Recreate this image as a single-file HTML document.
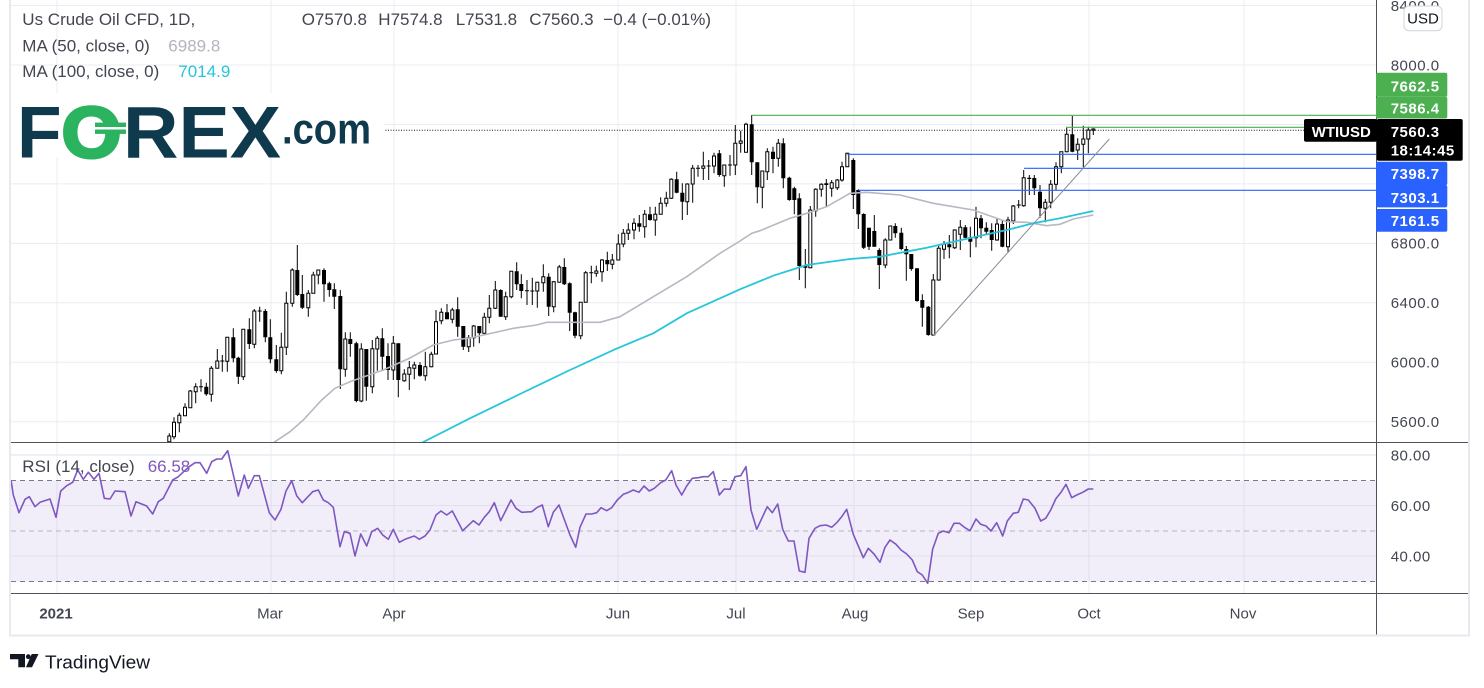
<!DOCTYPE html>
<html><head><meta charset="utf-8"><style>
html,body{margin:0;padding:0;background:#fff;width:1484px;height:688px;overflow:hidden}
svg{position:absolute;left:0;top:0;font-family:"Liberation Sans",sans-serif}
.ax{font-size:15px;fill:#434651;letter-spacing:.5px}
.lg{font-size:17px;fill:#434651}
.wl{font-size:15px;fill:#fff;letter-spacing:.5px}
</style></head><body>
<svg width="1484" height="688" viewBox="0 0 1484 688" xmlns="http://www.w3.org/2000/svg">
<defs>
<clipPath id="mp"><rect x="11" y="0" width="1365" height="442"/></clipPath>
<clipPath id="rp"><rect x="11" y="442" width="1365" height="151"/></clipPath>
</defs>
<!-- grid -->
<g stroke="#e8edf2" stroke-width="1" fill="none">
<path d="M11 5.5H1376M11 65H1376M11 124.5H1376M11 183.9H1376M11 243.4H1376M11 302.8H1376M11 362.3H1376M11 421.7H1376"/>
<path d="M57 0V593M271 0V593M394 0V593M618 0V593M736 0V593M854 0V593M971 0V593M1089 0V593M1244 0V593"/>
</g>
<!-- RSI background -->
<rect x="11" y="480.5" width="1365" height="101" fill="rgba(126,87,194,0.1)"/>
<g stroke="#dfe1ec" stroke-width="1"><path d="M11 455H1376M11 505.5H1376M11 556H1376"/></g>
<path d="M11 480.5H1376M11 581.5H1376" stroke="#787b86" stroke-width="1" stroke-dasharray="5 4"/>
<path d="M11 531H1376" stroke="#b2b5be" stroke-width="1" stroke-dasharray="5 4"/>

<g clip-path="url(#mp)">
<!-- wicks -->
<path fill="none" stroke="#000" stroke-width="1" d="M169.3 433.3V443.3M174 417.3V439.3M179.3 412.7V432.3M185 403.3V415.7M190.3 390V407.7M195.7 383.3V403.3M201 379.3V391.7M206.3 382.7V395.7M211.3 366V401.7M217.3 349V368.3M222.3 355V371.7M227.3 337.3V371.7M233.3 328.3V362.3M238.3 356.7V384M243.3 329.3V380M249.3 318.3V349M254.3 309V348.3M259.7 306.7V321.7M265.3 309V342.3M270.3 319.3V363.3M276.3 345V372.7M281.3 332.7V374.3M286.3 291.7V355M292.3 268.3V306.7M297.3 245V296M302.3 275V309M308.3 290V316.7M313.3 271.7V293.3M318.3 270V284.3M324 268.3V301.7M329.3 281.7V296.7M334.3 283.3V309M340.3 290V389M345.3 332.3V376.7M350.3 332.3V356.7M356.3 341.7V402.3M361.3 343.3V402.3M366.3 349V400.7M372.3 340V393.3M377.3 336V370.7M382.3 328.3V370M388 343.3V380M393.3 336V380M398.3 343.3V397.3M404.3 369.3V381.7M409.3 361V390M414.3 361.7V379.3M420 362.3V376.7M425.3 351.7V380.7M431.3 351.7V367.3M436 310V354M441.3 308.3V324.3M447 304V319.3M452.3 307.7V323.3M457.7 297.3V336.7M463.3 326V350M468.7 335V352M473.7 325V346.7M479.3 326V343.3M484.3 312.7V334M489.3 295V323.3M495.3 281V309M500.7 289.3V316.7M505.7 291.7V320M511.3 271.3V298.3M516.7 262.3V290M521.3 274.3V298.3M527 280V305M532.3 277.7V305M537.3 281.7V307.7M543.3 264.3V291.7M548.7 273.3V316M553.7 281V312.3M559.3 265V282.3M564.3 258.3V285M569.7 282.3V331M575 311.7V338.3M580.7 302.3V339.3M585.7 271V302.3M591.3 265.7V283.3M596.3 265.7V276.7M602 259V281.7M607.3 251.7V271M612.3 254V269.3M618.3 234.3V260M623.3 229V247.3M628.3 223.3V240M634 218.3V239.3M639.3 215V231.7M644.7 210V237.7M650 206.7V220.7M655.3 206.7V235.7M660.7 197.3V214.3M666.3 191.7V206.7M671.3 178.3V199M676.7 171.7V193.3M682.3 183.3V220M687.3 183.3V215M692.7 165V202.7M698 165V176.7M703.3 151.7V180M708.7 160V180M714 152.7V173.3M719.3 150V176.7M724.3 165V186.7M730 155V175.7M735.3 125V175M740.7 130.7V152.7M746 122.7V152.7M751.7 115V175M757.3 162.3V203.3M762.3 171V208.3M767.3 148.3V180M773 146.7V173.3M778.3 139V166.7M783.3 138.3V188.3M789.3 176.7V200.7M794.3 186.7V214.3M799.3 193.3V280M805.3 249V288.3M810.3 206V268.3M815.7 188.3V216.7M821.3 183.3V196.7M826.3 179V207.3M831.7 180V196.7M837.3 179V190M842 161.7V181.7M847.3 152.7V166.7M853.3 158.3V209M858.3 189.3V229M863.7 213.3V249M869 227.7V250M874.3 215V246.7M879.3 248.3V289M885.3 238.3V268.3M890.3 226V240M895.3 223.3V237.7M901.3 227.7V250.3M906.3 246V280.7M911.3 254V270.7M917 268.3V301.7M922.3 294.3V326.7M928.3 306V335.7M933.3 274V336M938.7 245V280.7M944 241V259M949.3 235V258.3M954.7 229.3V249M960.3 220V250M965.3 225V238.3M970.3 226.7V257.3M976 206.7V247.3M981 215V238.3M986.3 222.3V234.3M991.7 223.3V250.7M997 218.3V240.7M1002.3 220V247.3M1008 216.7V251.7M1013.3 205V224M1018.7 200V208.3M1023.7 170V206.7M1029.3 175V195M1034.3 175V195M1040 185V217.7M1045.3 199V222.3M1050.7 180V208.3M1056 162.3V190M1061.3 151.7V173.3M1066.7 127.7V152.3M1072.3 116V152.3M1077.7 138.3V160M1083.3 125.7V167.3M1088.3 126.7V153.3M1093.3 128.3V135"/>
<!-- black bodies -->
<path fill="#000" d="M206.3 386.7m-2 0h4V394.3h-4zM233.3 337.3m-2 0h4V358.3h-4zM238.3 357.7m-2 0h4V376.7h-4zM249.3 329.3m-2 0h4V344h-4zM265.3 311m-2 0h4V337.3h-4zM270.3 337.3m-2 0h4V359.3h-4zM276.3 359.3m-2 0h4V371h-4zM297.3 270m-2 0h4V295h-4zM302.3 294m-2 0h4V307.7h-4zM324 270m-2 0h4V284.3h-4zM329.3 283.3m-2 0h4V290h-4zM334.3 289.3m-2 0h4V296.7h-4zM340.3 296m-2 0h4V369.3h-4zM350.3 339m-2 0h4V344h-4zM356.3 343.3m-2 0h4V401h-4zM366.3 349m-2 0h4V386.7h-4zM382.3 338.3m-2 0h4V356.7h-4zM388 356m-2 0h4V370h-4zM398.3 343.3m-2 0h4V380h-4zM420 365m-2 0h4V375.7h-4zM447 312.3m-2 0h4V319.3h-4zM457.7 309.3m-2 0h4V326.7h-4zM463.3 326m-2 0h4V346.7h-4zM479.3 326m-2 0h4V333.3h-4zM500.7 290m-2 0h4V316.7h-4zM516.7 271.3m-2 0h4V284.3h-4zM521.3 284m-2 0h4V291h-4zM548.7 276.7m-2 0h4V306.7h-4zM564.3 267m-2 0h4V284.3h-4zM569.7 283.3m-2 0h4V312.7h-4zM575 312.3m-2 0h4V335.7h-4zM607.3 260m-2 0h4V264.3h-4zM639.3 223.3m-2 0h4V226.7h-4zM650 214.3m-2 0h4V220h-4zM676.7 179.3m-2 0h4V192.7h-4zM682.3 192.7m-2 0h4V201.7h-4zM719.3 153.3m-2 0h4V175h-4zM751.7 124.3m-2 0h4V162.3h-4zM757.3 162.3m-2 0h4V187.3h-4zM773 151.7m-2 0h4V159h-4zM783.3 143.3m-2 0h4V178.3h-4zM789.3 177.7m-2 0h4V200h-4zM794.3 188.3m-2 0h4V200h-4zM799.3 198.3m-2 0h4V266h-4zM805.3 265m-2 0h4V267.7h-4zM826.3 183.3m-2 0h4V185h-4zM853.3 160m-2 0h4V195h-4zM858.3 190m-2 0h4V214.3h-4zM863.7 214m-2 0h4V247.7h-4zM869 227.7m-2 0h4V246.7h-4zM874.3 231m-2 0h4V246.7h-4zM879.3 250m-2 0h4V265h-4zM895.3 226m-2 0h4V233.3h-4zM901.3 232.7m-2 0h4V249h-4zM906.3 249m-2 0h4V254.3h-4zM911.3 254m-2 0h4V269h-4zM917 268.3m-2 0h4V301h-4zM922.3 300m-2 0h4V307.7h-4zM928.3 306.7m-2 0h4V335h-4zM949.3 244.3m-2 0h4V247.3h-4zM965.3 227.3m-2 0h4V237.7h-4zM970.3 237.3m-2 0h4V241.7h-4zM981 218.3m-2 0h4V228.3h-4zM986.3 227.7m-2 0h4V231.7h-4zM991.7 230m-2 0h4V240h-4zM1002.3 224m-2 0h4V246.7h-4zM1029.3 177.7m-2 0h4V179h-4zM1034.3 178m-2 0h4V188.3h-4zM1040 191.7m-2 0h4V208.3h-4zM1072.3 134.3m-2 0h4V151.7h-4zM201 386.7m-2 -.5h4v1h-4zM222.3 361m-2 -.5h4v1h-4zM259.7 311m-2 -.5h4v1h-4zM527 290.7m-2 -.5h4v1h-4zM532.3 291m-2 -.5h4v1h-4zM591.3 272.7m-2 -.5h4v1h-4zM698 168.3m-2 -.5h4v1h-4zM708.7 166m-2 -.5h4v1h-4zM730 165m-2 -.5h4v1h-4zM1018.7 205m-2 -.5h4v1h-4z"/>
<!-- hollow bodies -->
<path fill="#fff" stroke="#000" stroke-width="1" d="M169.3 436m-1.5 0h3V441.7h-3zM174 422.3m-1.5 0h3V436.7h-3zM179.3 415.3m-1.5 0h3V422.7h-3zM185 407.3m-1.5 0h3V415.7h-3zM190.3 391m-1.5 0h3V407.7h-3zM195.7 386.7m-1.5 0h3V391.7h-3zM211.3 368.3m-1.5 0h3V394.3h-3zM217.3 361m-1.5 0h3V368.3h-3zM227.3 337.3m-1.5 0h3V361.3h-3zM243.3 329.3m-1.5 0h3V376.7h-3zM254.3 311m-1.5 0h3V344.3h-3zM281.3 347.3m-1.5 0h3V370.7h-3zM286.3 303.3m-1.5 0h3V347.3h-3zM292.3 270m-1.5 0h3V303.3h-3zM308.3 293.3m-1.5 0h3V307.7h-3zM313.3 275m-1.5 0h3V293.3h-3zM318.3 270m-1.5 0h3V275h-3zM345.3 339m-1.5 0h3V369.3h-3zM361.3 349m-1.5 0h3V401h-3zM372.3 348.7m-1.5 0h3V386.7h-3zM377.3 338.3m-1.5 0h3V349h-3zM393.3 343.3m-1.5 0h3V370h-3zM404.3 374m-1.5 0h3V380.7h-3zM409.3 367.7m-1.5 0h3V374.3h-3zM414.3 365m-1.5 0h3V368.3h-3zM425.3 366.7m-1.5 0h3V375.7h-3zM431.3 354.3m-1.5 0h3V366.7h-3zM436 321.7m-1.5 0h3V354h-3zM441.3 312.3m-1.5 0h3V320.7h-3zM452.3 310m-1.5 0h3V319.3h-3zM468.7 337.7m-1.5 0h3V346.7h-3zM473.7 326m-1.5 0h3V337.7h-3zM484.3 317.3m-1.5 0h3V333.3h-3zM489.3 308.3m-1.5 0h3V317.3h-3zM495.3 290m-1.5 0h3V308.3h-3zM505.7 296.7m-1.5 0h3V316.7h-3zM511.3 271.3m-1.5 0h3V296.7h-3zM537.3 282.3m-1.5 0h3V291h-3zM543.3 276.7m-1.5 0h3V282.7h-3zM553.7 281.7m-1.5 0h3V306.7h-3zM559.3 267m-1.5 0h3V282.3h-3zM580.7 302.3m-1.5 0h3V335.7h-3zM585.7 272.7m-1.5 0h3V302.3h-3zM596.3 271m-1.5 0h3V273.3h-3zM602 260m-1.5 0h3V271.7h-3zM612.3 260m-1.5 0h3V264.3h-3zM618.3 244m-1.5 0h3V260h-3zM623.3 233.3m-1.5 0h3V244h-3zM628.3 230m-1.5 0h3V233.3h-3zM634 223.3m-1.5 0h3V230h-3zM644.7 214.3m-1.5 0h3V226.7h-3zM655.3 214.3m-1.5 0h3V220h-3zM660.7 203.3m-1.5 0h3V214.3h-3zM666.3 198.3m-1.5 0h3V203.3h-3zM671.3 179.3m-1.5 0h3V198.3h-3zM687.3 184m-1.5 0h3V201.7h-3zM692.7 168.3m-1.5 0h3V184h-3zM703.3 166m-1.5 0h3V168.3h-3zM714 156m-1.5 0h3V166h-3zM724.3 165m-1.5 0h3V175.7h-3zM735.3 143.3m-1.5 0h3V165h-3zM740.7 141m-1.5 0h3V143.3h-3zM746 124.3m-1.5 0h3V152.3h-3zM762.3 171m-1.5 0h3V187.3h-3zM767.3 151.7m-1.5 0h3V171.7h-3zM778.3 143.3m-1.5 0h3V158.3h-3zM810.3 210m-1.5 0h3V267.7h-3zM815.7 189.3m-1.5 0h3V210.7h-3zM821.3 184.3m-1.5 0h3V189.3h-3zM831.7 182.7m-1.5 0h3V188.3h-3zM837.3 180m-1.5 0h3V187.7h-3zM842 166.7m-1.5 0h3V180h-3zM847.3 153.3m-1.5 0h3V166.7h-3zM885.3 240m-1.5 0h3V265h-3zM890.3 226m-1.5 0h3V240h-3zM933.3 280m-1.5 0h3V335h-3zM938.7 248.3m-1.5 0h3V280h-3zM944 244.3m-1.5 0h3V249.3h-3zM954.7 230m-1.5 0h3V247.7h-3zM960.3 227.3m-1.5 0h3V234.3h-3zM976 218.3m-1.5 0h3V237.7h-3zM997 224m-1.5 0h3V240h-3zM1008 220m-1.5 0h3V246.7h-3zM1013.3 206m-1.5 0h3V221h-3zM1023.7 177.7m-1.5 0h3V205.7h-3zM1045.3 202.3m-1.5 0h3V208.3h-3zM1050.7 184.3m-1.5 0h3V202.3h-3zM1056 166.7m-1.5 0h3V184.3h-3zM1061.3 151.7m-1.5 0h3V166.7h-3zM1066.7 134.3m-1.5 0h3V151.7h-3zM1077.7 144.3m-1.5 0h3V150h-3zM1083.3 139m-1.5 0h3V144.3h-3zM1088.3 130m-1.5 0h3V139h-3zM1093.3 129m-1.5 0h3V130.3h-3z"/>
<!-- MA 50 -->
<polyline fill="none" stroke="#b7b8c2" stroke-width="1.6" points="262,452 275,441.7 290,431.7 303.3,420 321.7,400 335,388.3 350,381.7 383.3,370 410,358 433.3,345 453.3,340 470,338 513.3,328.3 536.7,325 546.7,322.3 600,322.3 620,316.7 653.3,296.7 686.7,276.7 720,253.3 740,241 751.7,233.3 760,230.7 790,218.3 806.7,213.3 826.7,206.7 850,193.3 866.7,192.3 900,195 933.3,203.3 973.3,210 1006.7,221.7 1026.7,222.3 1046.7,225.7 1060,224.3 1073.3,219 1093.3,215"/>
<!-- MA 100 -->
<polyline fill="none" stroke="#26c6da" stroke-width="1.8" points="418,445 423.3,442 470,418.3 520,394 570,370 615,349.3 653.3,333.3 686.7,313.3 720,298.3 740,289.3 773.3,275.7 806.7,265 850,259 880,256.7 926.7,247.7 953.3,241.7 1006.7,230 1033.3,223.3 1060,218.3 1093.3,211"/>
<!-- levels -->
<path d="M751.7 115.3H1376M1066 127.3H1376" stroke="#4caf50" stroke-width="1.2"/>
<path d="M847.3 154.3H1376M1024 168.3H1376M858.3 190.3H1376" stroke="#2962ff" stroke-width="1.2"/>
<path d="M11 130.3H1376" stroke="#131722" stroke-width="1" stroke-dasharray="1 1.6"/>
<path d="M933.3 336L1109.3 139" stroke="#8a8d98" stroke-width="1"/>
</g>

<!-- RSI line -->
<polyline clip-path="url(#rp)" fill="none" stroke="#7e57c2" stroke-width="1.6" stroke-linejoin="round" points="11,480 13.3,495 19,512.7 25,499.3 29.3,496.7 35,506.7 40,502.3 50,499 56,517.3 60.7,491 66.7,485.7 72.7,482.3 77.7,470 83.3,479.3 88.3,472.3 94,479.3 99,473.3 104.3,498.3 110,499 115,491 125,491.7 131,516 136,501.7 146.7,506 152.7,514 158.3,501.7 163.3,498.3 172.7,480 178.3,476.7 188.3,467.3 195,462.7 200,462.7 206.7,473.3 211.7,461.7 216.7,459 221.7,459 227.7,450.7 238.3,496 244.3,475 248.3,488.3 254.3,475.7 259.3,475.7 269.3,512.7 275,520 281,509.3 286,491 291.7,480.7 296.7,495.7 302.3,502.7 312.7,491.7 318.3,490 323.3,500 328.3,502.7 333.3,507.3 340,546.7 344.3,531.7 350,533.3 355,556 360.7,534 366.7,546 371.7,531.7 377.7,528.3 382.7,535 388.3,539.3 393.3,529.3 399.3,542.3 405,539.3 414.3,536 419.3,539.3 425,536 430,530 436,515 441,511 446.7,515 452.3,511 462.7,530.7 473.3,520.7 479,525 484.3,517.3 489.3,511.7 494.3,502.7 500.7,520.7 511,500 516,508.3 521.7,512.3 531.7,511.7 536.7,507.7 542.3,505 548.3,526.7 553.3,512.3 559,505 570,535 575.7,547.3 580,527.3 586,514 591.7,514 596.7,512.7 601,507.7 606.7,510.7 611.7,507.7 617.3,500 623.3,494.3 627.7,492.7 633.3,490 639,492.3 644,486 649.3,491 654.3,488.3 660.7,482.7 665.7,480 671.7,470.7 676,485 681.7,495 686.7,486 692.3,478.3 698.3,477.7 703.3,476.7 708.3,476.7 713.3,471.7 719.3,495 724.3,489 730,489.3 735,476.7 740.7,475.7 746,466.7 751,510 756.7,529.3 762.3,517.3 767.3,506.7 772.3,512.7 777.7,504 782.7,529.3 788.3,541 794,541 799.3,571 805,572.3 809,538.3 815,528.3 820,525.7 826,525 831.7,527.3 836.7,522.7 841.7,516.7 846.7,509.3 853.3,534.3 858.3,546 863.3,557.7 868.3,548.3 874,554 880,562.3 885,547.3 890,540 896,544.3 901,550 906.7,554 912.3,560 917.3,571.7 922.3,575 927.7,583.3 932.7,549 938.3,533.3 943.3,531 949,532.7 954,523.3 959.3,523.3 965,527.7 970,530.7 976,519 980.7,524.3 986,526 991,531 996.7,522.7 1002.7,536 1007.3,521 1013.3,513.3 1018.3,512.3 1023.3,499 1028.3,500 1035,508.3 1040.7,521 1045.7,518.3 1050.7,510 1055.7,499 1061,492.3 1066,484.3 1071.7,497.7 1076.7,495 1082.7,492.3 1088.3,489 1093.3,489"/>

<!-- logo -->
<rect x="11" y="93" width="373" height="64" fill="#fff"/>
<text x="17" y="157.3" font-size="73" font-weight="bold" fill="#0f3a4d">F</text>
<text x="61.5" y="157.5" font-size="72" font-weight="bold" fill="#2bb35f" stroke="#2bb35f" stroke-width="3" textLength="60" lengthAdjust="spacingAndGlyphs">O</text>
<rect x="95" y="122.6" width="31" height="4.4" fill="#2bb35f"/>
<rect x="96" y="127" width="30" height="2.5" fill="#fff"/>
<rect x="95" y="129.5" width="31" height="4.4" fill="#2bb35f"/>
<text x="123" y="157.3" font-size="73" font-weight="bold" fill="#0f3a4d" textLength="158" lengthAdjust="spacingAndGlyphs">REX</text>
<text x="282" y="143.3" font-size="43" font-weight="bold" fill="#0f3a4d" textLength="89" lengthAdjust="spacingAndGlyphs">.com</text>

<!-- legend -->
<text class="lg" x="22.3" y="25">Us Crude Oil CFD, 1D,</text>
<text class="lg" x="301.7" y="25" fill="#131722">O7570.8</text>
<text class="lg" x="378.3" y="25">H7574.8</text>
<text class="lg" x="455.7" y="25">L7531.8</text>
<text class="lg" x="529.3" y="25">C7560.3</text>
<text class="lg" x="603.3" y="25">−0.4 (−0.01%)</text>
<text class="lg" x="22.3" y="51.5">MA (50, close, 0)</text>
<text x="168.3" y="51.5" font-size="17" fill="#b2b5be">6989.8</text>
<text class="lg" x="22.3" y="77">MA (100, close, 0)</text>
<text x="178.3" y="77" font-size="17" fill="#26c6da">7014.9</text>
<text class="lg" x="22.3" y="472">RSI (14, close)</text>
<text x="147.7" y="472" font-size="17" fill="#7e57c2">66.58</text>

<!-- axes -->
<path d="M10 442.5H1469M10 593.5H1469" stroke="#50535e" stroke-width="1"/>
<path d="M1376.5 0V635" stroke="#50535e" stroke-width="1"/>

<text class="ax" x="1390.7" y="11">8400.0</text>
<rect x="1404" y="6" width="38" height="24.7" rx="5" fill="#fff" stroke="#d1d4dc" stroke-width="1"/>
<text x="1423" y="23.5" font-size="15" fill="#131722" text-anchor="middle">USD</text>
<text class="ax" x="1390.7" y="70.3">8000.0</text>
<text class="ax" x="1390.7" y="248.6">6800.0</text>
<text class="ax" x="1390.7" y="308">6400.0</text>
<text class="ax" x="1390.7" y="367.5">6000.0</text>
<text class="ax" x="1390.7" y="427">5600.0</text>
<text class="ax" x="1390.7" y="460.3">80.00</text>
<text class="ax" x="1390.7" y="510.8">60.00</text>
<text class="ax" x="1390.7" y="561.3">40.00</text>

<!-- price labels -->
<rect x="1376" y="72.7" width="71.3" height="24" rx="2" fill="#4caf50"/>
<rect x="1376" y="96.7" width="71.3" height="21.8" rx="2" fill="#4caf50"/>
<text class="wl" x="1390.7" y="91.3" font-weight="bold">7662.5</text>
<text class="wl" x="1390.7" y="113.6" font-weight="bold">7586.4</text>
<rect x="1304" y="119" width="73" height="22.7" rx="2" fill="#000"/>
<text x="1311.7" y="136.8" font-size="15" font-weight="bold" fill="#fff">WTIUSD</text>
<rect x="1376.7" y="119" width="86" height="41.7" rx="2" fill="#000"/>
<text class="wl" x="1390.7" y="137" font-weight="bold">7560.3</text>
<text class="wl" x="1390.7" y="155.3" font-weight="bold" fill="#c9cbd1">18:14:45</text>
<rect x="1376" y="161.7" width="71.3" height="23.5" rx="2" fill="#2962ff"/>
<rect x="1376" y="185" width="71.3" height="22.4" rx="2" fill="#2962ff"/>
<rect x="1376" y="209" width="71.3" height="22.7" rx="2" fill="#2962ff"/>
<text class="wl" x="1390.7" y="179" font-weight="bold">7398.7</text>
<text class="wl" x="1390.7" y="203" font-weight="bold">7303.1</text>
<text class="wl" x="1390.7" y="226" font-weight="bold">7161.5</text>

<!-- time axis -->
<g font-size="15" fill="#434651" text-anchor="middle">
<text x="56" y="618.5" font-weight="bold">2021</text>
<text x="270" y="618.5">Mar</text>
<text x="394" y="618.5">Apr</text>
<text x="618" y="618.5">Jun</text>
<text x="736" y="618.5">Jul</text>
<text x="855" y="618.5">Aug</text>
<text x="971" y="618.5">Sep</text>
<text x="1089" y="618.5">Oct</text>
<text x="1243" y="618.5">Nov</text>
</g>

<!-- frame -->
<path d="M10 0V635.5H1469V0" fill="none" stroke="#e9e9f0" stroke-width="2"/>

<!-- TradingView -->
<path d="M10 654H25V667.3H18.3V659.3H10Z" fill="#131722"/>
<circle cx="28.3" cy="656.7" r="2.4" fill="#131722"/>
<path d="M31.7 654H38.5L32 667.3H26Z" fill="#131722"/>
<text x="45" y="668.3" font-size="18.5" fill="#131722" textLength="105" lengthAdjust="spacingAndGlyphs">TradingView</text>
</svg>
</body></html>
